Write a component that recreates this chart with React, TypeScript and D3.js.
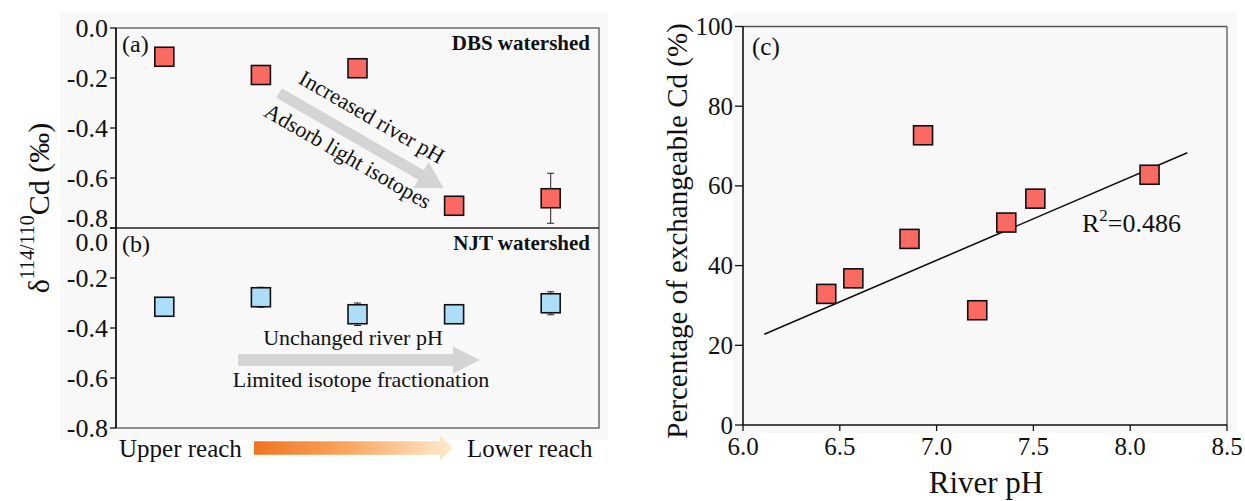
import * as d3 from 'd3';

const SITES = ['S1', 'S2', 'S3', 'S4', 'S5'];
const DBS_VALUES = [-0.115, -0.188, -0.161, -0.711, -0.681];
const DBS_ERR = [0, 0, 0, 0, 0.1];
const NJT_VALUES = [-0.315, -0.277, -0.345, -0.345, -0.301];
const NJT_ERR = [0, 0.04, 0.045, 0, 0.046];
const DELTA_TICKS = [0, -0.2, -0.4, -0.6, -0.8];

const PH = [6.43, 6.57, 6.86, 6.93, 7.21, 7.36, 7.51, 8.1];
const EXCH_CD = [32.9, 36.8, 46.7, 72.7, 28.8, 50.8, 56.8, 62.8];
const FIT_PH = [6.11, 8.295];
const FIT_CD = [22.8, 68.3];
const PH_TICKS = [6.0, 6.5, 7.0, 7.5, 8.0, 8.5];
const CD_TICKS = [0, 20, 40, 60, 80, 100];

const FONT = '"Liberation Serif", "Times New Roman", serif';
const RED = '#fa6a63';
const BLUE = '#acdef8';
const SQ = 19;

// arrow pointing along +x, starting at 0 and ending at len
function arrowPath(len: number, shaft: number, head: number, headLen: number) {
  const p = d3.path();
  p.moveTo(0, -shaft);
  p.lineTo(len - headLen, -shaft);
  p.lineTo(len - headLen, -head);
  p.lineTo(len, 0);
  p.lineTo(len - headLen, head);
  p.lineTo(len - headLen, shaft);
  p.lineTo(0, shaft);
  p.closePath();
  return p.toString();
}

function Squares({ values, errs, x, y, fill }: any) {
  return (
    <g>
      {values.map((v: number, i: number) => {
        const cx = x(SITES[i]) + x.bandwidth() / 2;
        const e = errs[i];
        return (
          <g key={i}>
            {e > 0 && (
              <g stroke="#222" strokeWidth={1}>
                <line x1={cx} x2={cx} y1={y(v + e)} y2={y(v - e)} />
                <line x1={cx - 3.5} x2={cx + 3.5} y1={y(v + e)} y2={y(v + e)} />
                <line x1={cx - 3.5} x2={cx + 3.5} y1={y(v - e)} y2={y(v - e)} />
              </g>
            )}
            <rect x={cx - SQ / 2} y={y(v) - SQ / 2} width={SQ} height={SQ} fill={fill} stroke="#111" strokeWidth={1.6} />
          </g>
        );
      })}
    </g>
  );
}

export default function App() {
  const x = d3.scaleBand().domain(SITES).range([116, 599]);
  const yA = d3.scaleLinear().domain([-0.8, 0]).range([228, 28]);
  const yB = d3.scaleLinear().domain([-0.8, 0]).range([428, 228]);

  const xc = d3.scaleLinear().domain([6, 8.5]).range([743, 1227]);
  const yc = d3.scaleLinear().domain([0, 100]).range([425, 26.5]);
  const fit = d3.line<number>().x((d) => xc(d)).y((_, i) => yc(FIT_CD[i]));

  const fmt = d3.format('.1f');

  return (
    <svg
      width={1245}
      height={501}
      style={{ position: 'absolute', left: 0, top: 0, background: '#fff' }}
      fontFamily={FONT}
    >
      <defs>
        <linearGradient id="reach" x1="0" x2="1" y1="0" y2="0">
          <stop offset="0" stopColor="#f07420" />
          <stop offset="0.45" stopColor="#f9a45c" />
          <stop offset="1" stopColor="#fdebd0" />
        </linearGradient>
      </defs>

      {/* panel backgrounds */}
      <rect x={60} y={12} width={548} height={428} fill="#f8f8f8" />
      <rect x={733} y={12} width={504} height={421} fill="#f8f8f8" />

      {/* ---- panels (a) and (b) ---- */}
      <g>
        <rect x={116} y={28} width={483} height={400} fill="none" stroke="#555" strokeWidth={1.3} />
        <line x1={116} x2={599} y1={228} y2={228} stroke="#222" strokeWidth={1.5} />
        <line x1={116} x2={116} y1={28} y2={428} stroke="#111" strokeWidth={1.6} />

        {[yA, yB].map((y, k) =>
          DELTA_TICKS.map((t) => {
            // the two labels meeting at the shared border are pushed apart
            let dy = 0;
            if (k === 0 && t === -0.8) dy = -10;
            if (k === 1 && t === 0) dy = 14;
            return (
              <g key={`${k}-${t}`}>
                <line x1={110} x2={116} y1={y(t)} y2={y(t)} stroke="#111" strokeWidth={1.3} />
                <text x={108} y={y(t) + dy} textAnchor="end" dominantBaseline="central" fontSize={26} fill="#111">
                  {t === 0 ? '0.0' : '-' + fmt(Math.abs(t))}
                </text>
              </g>
            );
          }),
        )}

        <text x={122} y={52} fontSize={24} fill="#111">(a)</text>
        <text x={122} y={252} fontSize={24} fill="#111">(b)</text>
        <text x={590} y={50} textAnchor="end" fontSize={21} fontWeight="bold" fill="#111">DBS watershed</text>
        <text x={590} y={250} textAnchor="end" fontSize={21} fontWeight="bold" fill="#111">NJT watershed</text>

        {/* trend arrow (a) */}
        <path d={arrowPath(190, 5.5, 15, 26)} transform="translate(279,93) rotate(30)" fill="#d4d4d4" />
        <text transform="translate(372,117) rotate(30)" textAnchor="middle" dominantBaseline="central" fontSize={22} fill="#111">
          Increased river pH
        </text>
        <text transform="translate(348,156) rotate(30)" textAnchor="middle" dominantBaseline="central" fontSize={22} fill="#111">
          Adsorb light isotopes
        </text>

        {/* flat arrow (b) */}
        <path d={arrowPath(242, 6, 13.5, 27)} transform="translate(238,360)" fill="#d4d4d4" />
        <text x={353} y={345} textAnchor="middle" fontSize={22} fill="#111">Unchanged river pH</text>
        <text x={361} y={387} textAnchor="middle" fontSize={22} fill="#111">Limited isotope fractionation</text>

        <Squares values={DBS_VALUES} errs={DBS_ERR} x={x} y={yA} fill={RED} />
        <Squares values={NJT_VALUES} errs={NJT_ERR} x={x} y={yB} fill={BLUE} />

        {/* upper -> lower reach */}
        <text x={119} y={457} fontSize={25} fill="#111">Upper reach</text>
        <path d={arrowPath(199, 6.7, 12.5, 13)} transform="translate(254,448)" fill="url(#reach)" />
        <text x={467} y={457} fontSize={25} fill="#111">Lower reach</text>

        <text
          transform="translate(38,208) rotate(-90)"
          textAnchor="middle"
          dominantBaseline="central"
          fontSize={30}
          fill="#111"
        >
          δ
          <tspan fontSize={20} dy={-11}>114/110</tspan>
          <tspan dy={11}>Cd (‰)</tspan>
        </text>
      </g>

      {/* ---- panel (c) ---- */}
      <g>
        <line x1={743} x2={1227} y1={yc(100)} y2={yc(100)} stroke="#555" strokeWidth={1.3} />
        <line x1={1227} x2={1227} y1={yc(100)} y2={yc(0)} stroke="#555" strokeWidth={1.3} />
        <line x1={743} x2={1227} y1={yc(0)} y2={yc(0)} stroke="#111" strokeWidth={1.6} />
        <line x1={743} x2={743} y1={yc(100)} y2={yc(0)} stroke="#111" strokeWidth={1.6} />

        {CD_TICKS.map((t) => (
          <g key={t}>
            <line x1={735} x2={743} y1={yc(t)} y2={yc(t)} stroke="#111" strokeWidth={1.3} />
            <text x={733} y={yc(t)} textAnchor="end" dominantBaseline="central" fontSize={25} fill="#111">{t}</text>
          </g>
        ))}
        {PH_TICKS.map((t) => (
          <g key={t}>
            <line x1={xc(t)} x2={xc(t)} y1={yc(0)} y2={yc(0) + 6} stroke="#111" strokeWidth={1.3} />
            <text x={xc(t)} y={455} textAnchor="middle" fontSize={25} fill="#111">{fmt(t)}</text>
          </g>
        ))}

        <path d={fit(FIT_PH) ?? ''} fill="none" stroke="#111" strokeWidth={1.6} />
        {PH.map((p, i) => (
          <rect
            key={i}
            x={xc(p) - SQ / 2}
            y={yc(EXCH_CD[i]) - SQ / 2}
            width={SQ}
            height={SQ}
            fill={RED}
            stroke="#111"
            strokeWidth={1.6}
          />
        ))}

        <text x={752} y={55} fontSize={25} fill="#111">(c)</text>
        <text x={1082} y={232} fontSize={26} fill="#111">
          R<tspan fontSize={17} dy={-11}>2</tspan>
          <tspan dy={11}>=0.486</tspan>
        </text>

        <text x={986} y={493} textAnchor="middle" fontSize={31} fill="#111">River pH</text>
        <text
          transform="translate(677,231) rotate(-90)"
          textAnchor="middle"
          dominantBaseline="central"
          fontSize={29}
          fill="#111"
        >
          Percentage of exchangeable Cd (%)
        </text>
      </g>
    </svg>
  );
}
